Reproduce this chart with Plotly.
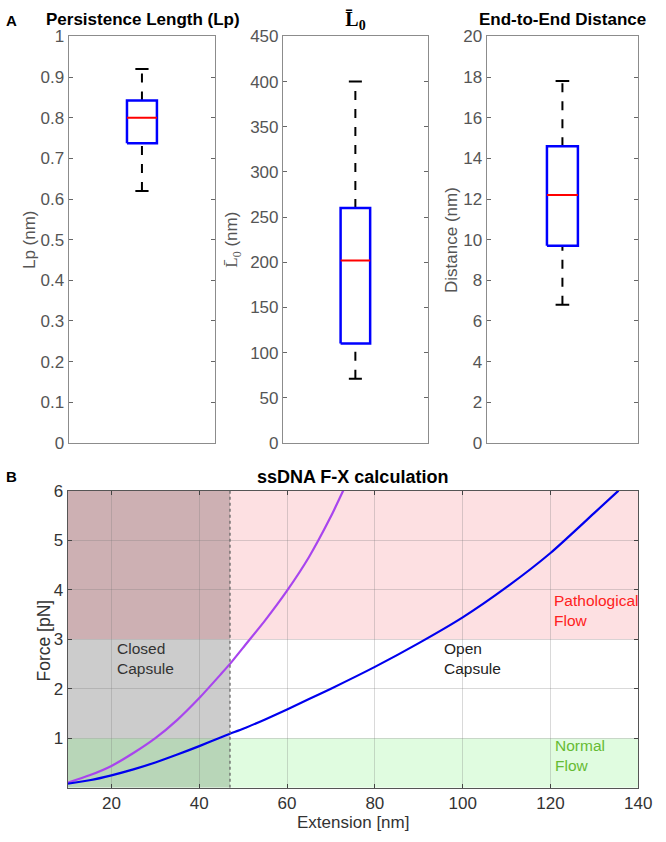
import plotly.graph_objects as go

W, H = 666, 842
FONT = "Liberation Sans, Arial, Helvetica, sans-serif"
SERIF = "Liberation Serif, DejaVu Serif, serif"

# ---------------- Data ----------------
# Box statistics: [lower whisker, q1, median, q3, upper whisker]
lp_stats = [0.62, 0.737, 0.80, 0.842, 0.92]
l0_stats = [71, 110, 202, 260, 400]
dist_stats = [6.8, 9.7, 12.2, 14.6, 17.8]

lp_ticks = [0, 0.1, 0.2, 0.3, 0.4, 0.5, 0.6, 0.7, 0.8, 0.9, 1]
l0_ticks = [0, 50, 100, 150, 200, 250, 300, 350, 400, 450]
dist_ticks = [0, 2, 4, 6, 8, 10, 12, 14, 16, 18, 20]

# F-X curves
purple_x = [10, 15, 20, 25, 30, 35, 40, 45, 47, 50, 55, 60, 65, 70, 72.8]
purple_y = [0.10, 0.25, 0.44, 0.70, 1.00, 1.37, 1.81, 2.30, 2.50, 2.83, 3.38, 3.98, 4.66, 5.48, 6.0]
blue_x = [10, 15, 20, 25, 30, 35, 40, 45, 47, 50, 55, 60, 65, 70, 80, 90, 100, 110, 120, 130, 135.5]
blue_y = [0.08, 0.15, 0.25, 0.37, 0.51, 0.67, 0.84, 1.02, 1.09, 1.19, 1.38, 1.58, 1.79, 2.00, 2.44, 2.92, 3.44, 4.05, 4.74, 5.55, 6.0]

fx_xticks = [20, 40, 60, 80, 100, 120, 140]
fx_yticks = [1, 2, 3, 4, 5, 6]
x_range = [10, 140]
y_range = [0, 6]
capsule_x = 47
normal_top = 1
patho_bottom = 3

fig = go.Figure()

def px_x(a, b):
    return [a / W, b / W]

def px_y(top, bottom):
    return [1 - bottom / H, 1 - top / H]

panels = [
    ("x", "y", lp_stats, lp_ticks, [0, 1], px_x(70, 220)),
    ("x2", "y2", l0_stats, l0_ticks, [0, 450], px_x(289, 437)),
    ("x3", "y3", dist_stats, dist_ticks, [0, 20], px_x(497, 652)),
]

top_ydom = px_y(28, 444)
box_hw = 0.102
cap_hw = 0.045

for xa, ya, st, ticks, yr, xdom in panels:
    lo, q1, med, q3, hi = st
    for a, b in [(q3, hi), (lo, q1)]:
        fig.add_trace(go.Scatter(x=[1, 1], y=[a, b], mode="lines", xaxis=xa, yaxis=ya,
                                 line=dict(color="black", width=2, dash="dash"),
                                 showlegend=False, hoverinfo="skip"))
    for v in [lo, hi]:
        fig.add_trace(go.Scatter(x=[1 - cap_hw, 1 + cap_hw], y=[v, v], mode="lines",
                                 xaxis=xa, yaxis=ya, line=dict(color="black", width=2),
                                 showlegend=False, hoverinfo="skip"))
    fig.add_trace(go.Scatter(x=[1 - box_hw, 1 + box_hw, 1 + box_hw, 1 - box_hw, 1 - box_hw],
                             y=[q1, q1, q3, q3, q1], mode="lines", xaxis=xa, yaxis=ya,
                             fill="toself", fillcolor="white",
                             line=dict(color="#0000ff", width=2.5),
                             showlegend=False, hoverinfo="skip"))
    fig.add_trace(go.Scatter(x=[1 - box_hw, 1 + box_hw], y=[med, med], mode="lines",
                             xaxis=xa, yaxis=ya, line=dict(color="#ff0000", width=2),
                             showlegend=False, hoverinfo="skip"))
    n = "" if xa == "x" else xa[1:]
    fig.layout["xaxis" + n] = dict(domain=xdom, range=[0.5, 1.5], showticklabels=False,
                                   ticks="", showgrid=False, zeroline=False,
                                   showline=True, linecolor="#8c8c8c", linewidth=1,
                                   mirror=True, anchor=ya, fixedrange=True)
    fig.layout["yaxis" + n] = dict(domain=top_ydom, range=yr, tickvals=ticks,
                                   ticktext=[("%g" % t) for t in ticks],
                                   ticks="inside", ticklen=4, tickcolor="#666666",
                                   showgrid=False, zeroline=False, showline=True,
                                   linecolor="#8c8c8c", linewidth=1, mirror="ticks",
                                   tickfont=dict(family=FONT, size=17, color="#555555"),
                                   ticklabeloverflow="allow",
                                   anchor=xa, fixedrange=True)

# ---------------- Bottom F-X panel ----------------
shapes = []
def rect(x0, x1, y0, y1, color):
    shapes.append(dict(type="rect", xref="x4", yref="y4", x0=x0, x1=x1, y0=y0, y1=y1,
                       fillcolor=color, line=dict(width=0), layer="below"))

rect(x_range[0], capsule_x, patho_bottom, y_range[1], "#cdb0b3")
rect(x_range[0], capsule_x, normal_top, patho_bottom, "#cccccc")
rect(x_range[0], capsule_x, y_range[0], normal_top, "#b8d6b8")
rect(capsule_x, x_range[1], patho_bottom, y_range[1], "#fde0e2")
rect(capsule_x, x_range[1], y_range[0], normal_top, "#e0fce0")
shapes.append(dict(type="line", xref="x4", yref="y4", x0=capsule_x, x1=capsule_x,
                   y0=y_range[0], y1=y_range[1], line=dict(color="#666666", width=1.3, dash="dot"),
                   layer="above"))

fig.add_trace(go.Scatter(x=purple_x, y=purple_y, mode="lines", xaxis="x4", yaxis="y4",
                         line=dict(color="#a845ee", width=2.2, shape="spline", smoothing=0.6),
                         showlegend=False, hoverinfo="skip"))
fig.add_trace(go.Scatter(x=blue_x, y=blue_y, mode="lines", xaxis="x4", yaxis="y4",
                         line=dict(color="#0000ee", width=2.2, shape="spline", smoothing=0.6),
                         showlegend=False, hoverinfo="skip"))

fig.layout["xaxis4"] = dict(domain=px_x(69, 652), range=x_range, tickvals=fx_xticks,
                            ticks="inside", ticklen=4, tickcolor="#444444",
                            showgrid=True, gridcolor="rgba(120,120,120,0.28)", gridwidth=1,
                            zeroline=False, showline=True, linecolor="#555555", linewidth=1,
                            mirror="ticks", anchor="y4", ticklabeloverflow="allow",
                            tickfont=dict(family=FONT, size=17, color="#333333"), fixedrange=True)
fig.layout["yaxis4"] = dict(domain=px_y(492.7, 796.7), range=y_range, tickvals=fx_yticks,
                            ticks="inside", ticklen=4, tickcolor="#444444",
                            showgrid=True, gridcolor="rgba(120,120,120,0.28)", gridwidth=1,
                            zeroline=False, showline=True, linecolor="#555555", linewidth=1,
                            mirror="ticks", anchor="x4", ticklabeloverflow="allow",
                            tickfont=dict(family=FONT, size=17, color="#333333"), fixedrange=True)

ann = []
def txt(x, y, s, size=15, color="black", angle=0, family=FONT):
    ann.append(dict(xref="paper", yref="paper", x=x / W, y=1 - y / H, text=s, showarrow=False,
                    font=dict(family=family, size=size, color=color), textangle=angle,
                    xanchor="center", yanchor="middle"))

L0 = "<span style='font-family:Liberation Serif, DejaVu Serif, serif'>L\u0304<sub>0</sub></span>"

txt(12, 12, "<b>A</b>", size=15)
txt(12, 478, "<b>B</b>", size=15)
txt(146, 10.5, "<b>Persistence Length (Lp)</b>", size=17)
txt(363, 12, "<b>L\u0304<sub>0</sub></b>", size=20, family=SERIF)
txt(574.5, 10.5, "<b>End-to-End Distance</b>", size=17)
txt(30, 236, "Lp (nm)", size=17, color="#555555", angle=-90)
txt(238, 236, L0 + " (nm)", size=17, color="#555555", angle=-90)
txt(461, 236, "Distance (nm)", size=17, color="#555555", angle=-90)

txt(360.5, 479, "<b>ssDNA F-X calculation</b>", size=18)
txt(45, 646, "Force [pN]", size=17.5, color="#333333", angle=-90)
txt(360.5, 832, "Extension [nm]", size=17, color="#333333")

def dtxt(x, y, s, color):
    ann.append(dict(xref="x4", yref="y4", x=x, y=y, text=s, showarrow=False,
                    font=dict(family=FONT, size=15.5, color=color), align="left",
                    xanchor="left", yanchor="middle"))

dtxt(20.8, 2.6, "Closed<br>Capsule", "#333333")
dtxt(95.4, 2.6, "Open<br>Capsule", "#222222")
dtxt(120.4, 3.58, "Pathological<br>Flow", "#ff2020")
dtxt(120.6, 0.65, "Normal<br>Flow", "#66bb33")

fig.update_layout(width=W, height=H, margin=dict(l=0, r=0, t=0, b=0),
                  paper_bgcolor="white", plot_bgcolor="rgba(0,0,0,0)",
                  shapes=shapes, annotations=ann, showlegend=False)

fig.write_html("out.html", config={"displayModeBar": False})
